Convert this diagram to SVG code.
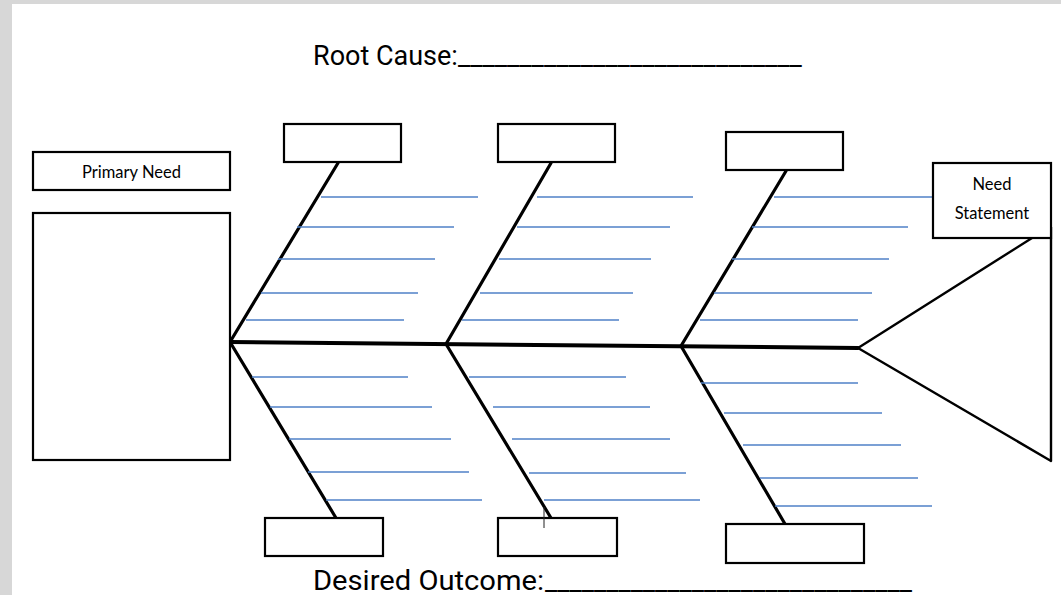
<svg xmlns="http://www.w3.org/2000/svg" width="1061" height="595" viewBox="0 0 1061 595">
  <style>
    .box { fill: #ffffff; stroke: #000000; stroke-width: 2.2; }
    .bone { fill: none; stroke: #000000; stroke-width: 3.2; stroke-linecap: round; }
    .spine { fill: none; stroke: #000000; stroke-width: 4; stroke-linecap: round; }
    .head { fill: none; stroke: #000000; stroke-width: 2.4; stroke-linejoin: round; }
    .rule { stroke: #4f81c7; stroke-width: 1.6; }
    .title { font-family: Roboto, "Liberation Sans", sans-serif; font-size: 27px; fill: #000000; }
    .hand { font-family: Lato, "DejaVu Sans", sans-serif; font-size: 16.5px; fill: #000000; text-anchor: middle; }
  </style>

  <!-- page -->
  <rect x="0" y="0" width="1061" height="595" fill="#d7d7d7"/>
  <rect x="12" y="4" width="1049" height="591" fill="#ffffff"/>

  <!-- headings -->
  <text class="title" x="313" y="65">Root Cause:<tspan textLength="344" lengthAdjust="spacingAndGlyphs">____________________________</tspan></text>
  <text class="title" x="313" y="590"><tspan textLength="231" lengthAdjust="spacingAndGlyphs">Desired Outcome:</tspan><tspan x="545" textLength="367" lengthAdjust="spacingAndGlyphs">______________________________</tspan></text>

  <!-- connectors: spine, bones, head and writing rules -->
  <g id="connectors">
    <line class="spine" x1="230" y1="342" x2="858" y2="348"/>

    <line class="bone" x1="230" y1="342" x2="338" y2="163"/>
    <line class="bone" x1="446" y1="344" x2="551" y2="163"/>
    <line class="bone" x1="681" y1="346" x2="786" y2="171"/>
    <line class="bone" x1="230" y1="342" x2="336" y2="518"/>
    <line class="bone" x1="446" y1="344" x2="551" y2="518"/>
    <line class="bone" x1="681" y1="346" x2="785" y2="524"/>

    <polyline class="head" points="1032,238 858,348 1051,461 1051,227"/>

    <g id="rules-top-1">
      <line class="rule" x1="321" y1="197" x2="478" y2="197"/>
      <line class="rule" x1="297" y1="227" x2="454" y2="227"/>
      <line class="rule" x1="278" y1="259" x2="435" y2="259"/>
      <line class="rule" x1="261" y1="293" x2="418" y2="293"/>
      <line class="rule" x1="246" y1="320" x2="404" y2="320"/>
    </g>
    <g id="rules-top-2">
      <line class="rule" x1="537" y1="197" x2="693" y2="197"/>
      <line class="rule" x1="517" y1="227" x2="670" y2="227"/>
      <line class="rule" x1="499" y1="259" x2="651" y2="259"/>
      <line class="rule" x1="480" y1="293" x2="633" y2="293"/>
      <line class="rule" x1="462" y1="320" x2="619" y2="320"/>
    </g>
    <g id="rules-top-3">
      <line class="rule" x1="774" y1="197" x2="933" y2="197"/>
      <line class="rule" x1="752" y1="227" x2="908" y2="227"/>
      <line class="rule" x1="732" y1="259" x2="889" y2="259"/>
      <line class="rule" x1="714" y1="293" x2="872" y2="293"/>
      <line class="rule" x1="700" y1="320" x2="858" y2="320"/>
    </g>
    <g id="rules-bottom-1">
      <line class="rule" x1="252" y1="377" x2="408" y2="377"/>
      <line class="rule" x1="270" y1="407" x2="432" y2="407"/>
      <line class="rule" x1="289" y1="439" x2="451" y2="439"/>
      <line class="rule" x1="308" y1="472" x2="469" y2="472"/>
      <line class="rule" x1="326" y1="500" x2="482" y2="500"/>
    </g>
    <g id="rules-bottom-2">
      <line class="rule" x1="469" y1="377" x2="626" y2="377"/>
      <line class="rule" x1="493" y1="407" x2="650" y2="407"/>
      <line class="rule" x1="512" y1="439" x2="670" y2="439"/>
      <line class="rule" x1="529" y1="473" x2="686" y2="473"/>
      <line class="rule" x1="544" y1="500" x2="700" y2="500"/>
    </g>
    <g id="rules-bottom-3">
      <line class="rule" x1="701" y1="383" x2="858" y2="383"/>
      <line class="rule" x1="724" y1="413" x2="882" y2="413"/>
      <line class="rule" x1="743" y1="445" x2="901" y2="445"/>
      <line class="rule" x1="760" y1="478" x2="918" y2="478"/>
      <line class="rule" x1="775" y1="506" x2="932" y2="506"/>
    </g>
  </g>

  <!-- nodes -->
  <g id="primary-need">
    <rect class="box" x="33" y="152" width="197" height="38"/>
    <text class="hand" x="131.5" y="178">Primary Need</text>
  </g>
  <g id="primary-need-body">
    <rect class="box" x="33" y="213" width="197" height="247"/>
  </g>
  <g id="need-statement">
    <rect class="box" x="933" y="163" width="118" height="75"/>
    <text class="hand" x="992" y="190">Need</text>
    <text class="hand" x="992" y="219">Statement</text>
  </g>

  <g id="cause-top-1"><rect class="box" x="284" y="124" width="117" height="38"/></g>
  <g id="cause-top-2"><rect class="box" x="498" y="124" width="117" height="38"/></g>
  <g id="cause-top-3"><rect class="box" x="726" y="132" width="117" height="38"/></g>
  <g id="cause-bottom-1"><rect class="box" x="265" y="518" width="118" height="38"/></g>
  <g id="cause-bottom-2"><rect class="box" x="498" y="518" width="119" height="38"/></g>
  <g id="cause-bottom-3"><rect class="box" x="726" y="524" width="138" height="39"/></g>

  <!-- text caret -->
  <line x1="544" y1="507" x2="544" y2="528" stroke="#222222" stroke-width="1"/>
</svg>
